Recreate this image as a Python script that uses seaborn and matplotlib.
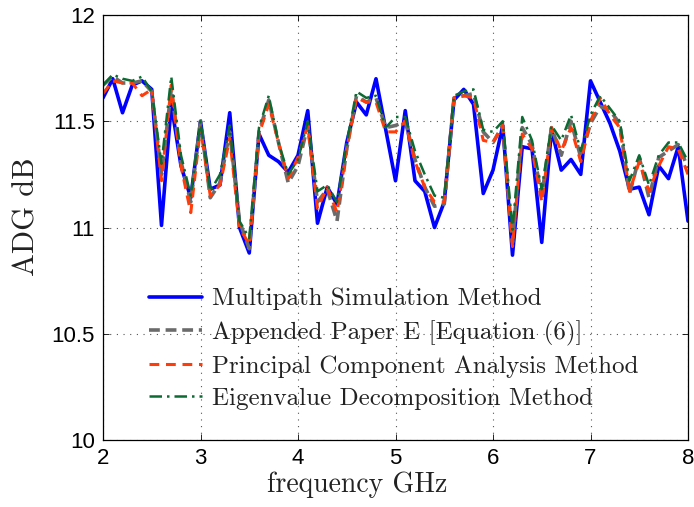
import numpy as np
import pandas as pd
import matplotlib
matplotlib.use("Agg")
import matplotlib.pyplot as plt
import seaborn as sns

freq = [round(2.0 + 0.1 * i, 1) for i in range(61)]

multipath = [11.61, 11.70, 11.54, 11.67, 11.69, 11.65, 11.01, 11.58, 11.29, 11.14,
             11.50, 11.18, 11.20, 11.54, 11.00, 10.88, 11.44, 11.34, 11.31, 11.26,
             11.34, 11.55, 11.02, 11.19, 11.11, 11.40, 11.59, 11.53, 11.70, 11.46,
             11.22, 11.55, 11.22, 11.17, 11.00, 11.12, 11.60, 11.65, 11.58, 11.16,
             11.27, 11.48, 10.87, 11.38, 11.37, 10.93, 11.46, 11.27, 11.32, 11.25,
             11.69, 11.59, 11.49, 11.36, 11.18, 11.19, 11.06, 11.29, 11.23, 11.38,
             11.03]

appended_e = [11.67, 11.71, 11.68, 11.68, 11.69, 11.64, 11.25, 11.65, 11.31, 11.12,
              11.50, 11.14, 11.21, 11.45, 11.03, 10.90, 11.45, 11.60, 11.40, 11.21,
              11.29, 11.48, 11.12, 11.18, 11.03, 11.37, 11.62, 11.59, 11.61, 11.47,
              11.48, 11.50, 11.32, 11.19, 11.10, 11.11, 11.61, 11.62, 11.63, 11.45,
              11.40, 11.48, 10.93, 11.47, 11.39, 11.15, 11.47, 11.34, 11.50, 11.33,
              11.49, 11.57, 11.55, 11.49, 11.16, 11.33, 11.14, 11.33, 11.36, 11.39,
              11.28]

pca = [11.63, 11.69, 11.68, 11.68, 11.62, 11.65, 11.22, 11.67, 11.29, 11.07,
       11.47, 11.15, 11.20, 11.42, 11.00, 10.92, 11.44, 11.58, 11.40, 11.23,
       11.33, 11.48, 11.09, 11.19, 11.07, 11.37, 11.61, 11.59, 11.59, 11.45,
       11.45, 11.50, 11.31, 11.19, 11.12, 11.12, 11.61, 11.62, 11.61, 11.41,
       11.40, 11.48, 10.91, 11.44, 11.37, 11.12, 11.47, 11.36, 11.47, 11.31,
       11.50, 11.61, 11.53, 11.47, 11.17, 11.31, 11.17, 11.29, 11.38, 11.37,
       11.25]

eigen = [11.67, 11.72, 11.70, 11.69, 11.71, 11.64, 11.30, 11.71, 11.34, 11.15,
         11.50, 11.17, 11.25, 11.48, 11.03, 10.95, 11.47, 11.62, 11.40, 11.25,
         11.32, 11.50, 11.17, 11.20, 11.12, 11.40, 11.64, 11.61, 11.62, 11.47,
         11.52, 11.52, 11.36, 11.25, 11.15, 11.14, 11.62, 11.64, 11.65, 11.46,
         11.45, 11.50, 10.99, 11.52, 11.41, 11.18, 11.48, 11.41, 11.53, 11.36,
         11.53, 11.62, 11.56, 11.50, 11.22, 11.34, 11.20, 11.34, 11.40, 11.40,
         11.31]

labels = ["Multipath Simulation Method",
          "Appended Paper E [Equation (6)]",
          "Principal Component Analysis Method",
          "Eigenvalue Decomposition Method"]

x_ticks = [2, 3, 4, 5, 6, 7, 8]
y_ticks = [10, 10.5, 11, 11.5, 12]
y_tick_labels = ["10", "10.5", "11", "11.5", "12"]

sns.set_style("white")
plt.rcParams['font.family'] = ['Liberation Sans', 'DejaVu Sans']

fig = plt.figure(figsize=(6.94, 5.07), dpi=100)
ax = fig.add_axes([103 / 694, 67 / 507, 585 / 694, 425 / 507])

styles = [
    dict(color="#0000ff", lw=2.6, ls="-"),
    dict(color="#6b6b6b", lw=2.6, ls=(0, (3.0, 1.6))),
    dict(color="#ff3c0a", lw=2.2, ls=(0, (3.2, 2.2))),
    dict(color="#0b6b32", lw=1.8, ls=(0, (5.0, 2.0, 1.0, 2.0))),
]
series = [multipath, appended_e, pca, eigen]

for vals, lab, st in zip(series, labels, styles):
    df = pd.DataFrame({"f": freq, "v": vals})
    sns.lineplot(data=df, x="f", y="v", ax=ax, label=lab, sort=False,
                 color=st["color"], linewidth=st["lw"], linestyle=st["ls"])

ax.set_xlim(2, 8)
ax.set_ylim(10, 12)
ax.set_xticks(x_ticks)
ax.set_xticklabels([str(t) for t in x_ticks])
ax.set_yticks(y_ticks)
ax.set_yticklabels(y_tick_labels)
ax.tick_params(axis="both", direction="in", length=4, width=0.6, labelsize=16,
               top=True, right=True, bottom=True, left=True, pad=6, colors="black")
ax.grid(True, color="#555555", linestyle=(0, (1, 5)), linewidth=0.8)
for s in ax.spines.values():
    s.set_color("black")
    s.set_linewidth(0.9)

ax.set_xlabel("frequency GHz", family="cmr10", fontsize=20, color="#222222")
ax.xaxis.set_label_coords(254 / 585, -0.075)
ax.set_ylabel("ADG dB", family="cmr10", fontsize=22, color="#222222")
ax.yaxis.set_label_coords(-0.106, 0.525)

leg = ax.legend(loc="upper left", bbox_to_anchor=(0.078, 0.358), frameon=False,
                prop={"family": "cmr10", "size": 18}, handlelength=2.12,
                handletextpad=0.40, labelspacing=0.39, borderpad=0, borderaxespad=0)
for t in leg.get_texts():
    t.set_color("#222222")

fig.savefig("out.png", dpi=100)
